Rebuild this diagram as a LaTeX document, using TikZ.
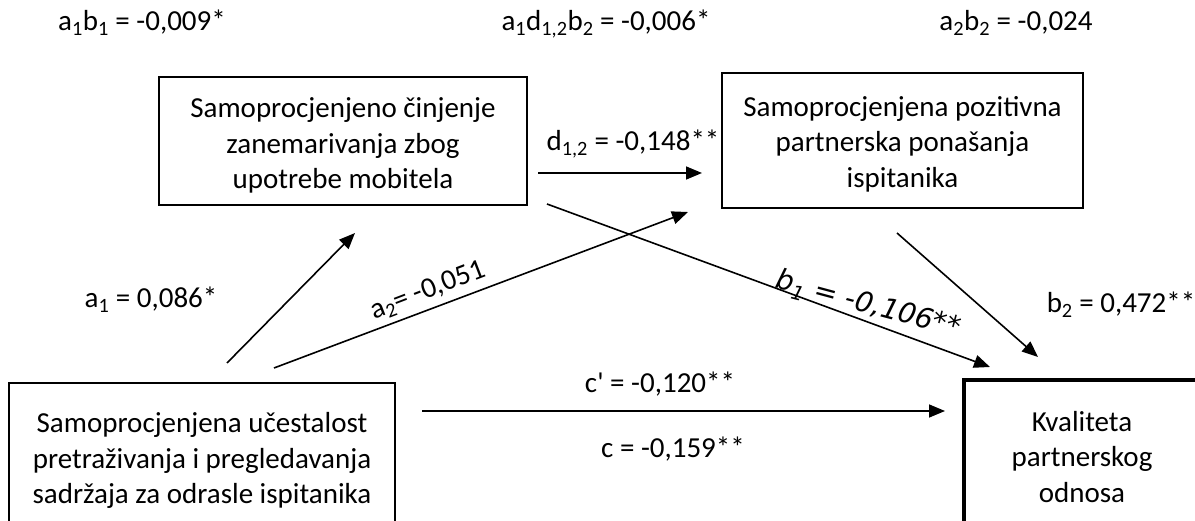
\documentclass[tikz,border=0pt]{standalone}
\usepackage{fontspec}
\setmainfont{Carlito}
\newfontfamily\calib{Carlito}
\newfontfamily\dejavu{DejaVu Sans}
\usetikzlibrary{arrows.meta}
\begin{document}
\begin{tikzpicture}[x=1pt,y=-1pt,
  box/.style={draw, line width=1.6pt, align=center, inner sep=0pt,
    font=\calib\fontsize{29}{35.4}\selectfont},
  arr/.style={line width=1.6pt, -{Triangle[length=16pt,width=13pt]}},
  lab/.style={font=\calib\fontsize{29}{35}\selectfont, inner sep=0pt, anchor=base},
  rlab/.style={font=\calib\fontsize{29}{35}\selectfont, inner sep=0pt}]
\useasboundingbox (0,0) rectangle (1195,521);
\clip (0,0) rectangle (1195,521);
\fill[white] (0,0) rectangle (1195,521);

% boxes
\node[box, minimum width=368pt, minimum height=128pt] (m1) at (343,141)
  {\rule{0pt}{29pt}Samoprocjenjeno činjenje\\zanemarivanja zbog\\upotrebe mobitela};
\node[box, minimum width=361pt, minimum height=135pt] (m2) at (902.5,140.5)
  {\rule{0pt}{27pt}Samoprocjenjena pozitivna\\partnerska ponašanja\\ispitanika};
\node[box, minimum width=386pt, minimum height=150pt] (x) at (202,458)
  {\rule{0pt}{25pt}Samoprocjenjena učestalost\\pretraživanja i pregledavanja\\sadržaja za odrasle ispitanika};
\node[box, line width=4.5pt, minimum width=236pt, minimum height=154pt] (y) at (1082,457)
  {Kvaliteta\\partnerskog\\odnosa};

% connector end points
\coordinate (a1s) at (227,363); \coordinate (a1e) at (355,233);
\coordinate (a2s) at (274,368); \coordinate (a2e) at (688,212);
\coordinate (b1s) at (547,204); \coordinate (b1e) at (990,367);
\coordinate (b2s) at (897,233); \coordinate (b2e) at (1038,357);
\coordinate (ds) at (538,173);  \coordinate (de) at (702,173);
\coordinate (cs) at (422,411);  \coordinate (ce) at (945,411);

\draw[arr] (a1s) -- (a1e);
\draw[arr] (a2s) -- (a2e);
\draw[arr] (b1s) -- (b1e);
\draw[arr] (b2s) -- (b2e);
\draw[arr] (ds) -- (de);
\draw[arr] (cs) -- (ce);

% labels
\node[lab] (l1) at (142,31) {a\textsubscript{1}b\textsubscript{1} = -0,009*};
\node[lab] (l2) at (606,31) {a\textsubscript{1}d\textsubscript{1,2}b\textsubscript{2} = -0,006*};
\node[lab] (l3) at (1016,31) {a\textsubscript{2}b\textsubscript{2} = -0,024};
\node[lab] (la1) at (151,308) {a\textsubscript{1} = 0,086*};
\node[lab] (ld) at (633,151) {d\textsubscript{1,2} = -0,148**};
\node[lab] (lb2) at (1121,313) {b\textsubscript{2} = 0,472**};
\node[lab] (lc1) at (660,392) {c' = -0,120**};
\node[lab] (lc) at (673,457) {c = -0,159**};
\node[rlab, rotate=21] (la2) at (428,291) {a\textsubscript{2}= -0,051};
\node[inner sep=0pt, rotate=-15, font=\dejavu\itshape\fontsize{28}{33}\selectfont] (lb1) at (868,305)
  {b\textsubscript{1} = -0,106**};
\end{tikzpicture}
\end{document}
